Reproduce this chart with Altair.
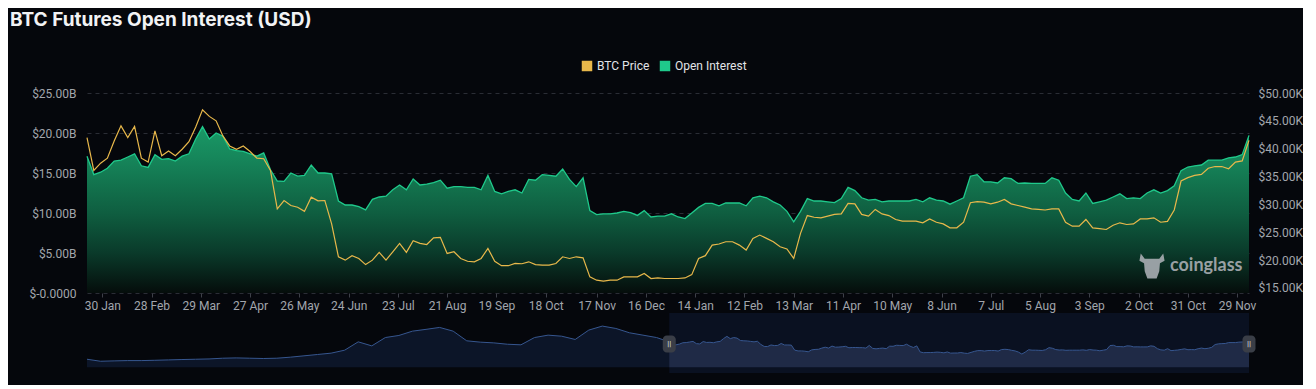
import altair as alt
import pandas as pd

TITLE = "BTC Futures Open Interest (USD)"
SERIES = ["BTC Price", "Open Interest"]
SERIES_COLORS = ["#E8B84B", "#1FC98B"]
WATERMARK = "coinglass"

# main series: one reading every 4 days starting 2022-01-21
START = "2022-01-21"
STEP_DAYS = 4
OI_B = [
    17.1, 14.8, 15.1, 15.6, 16.5, 16.6, 17.0, 17.4, 15.9, 15.7,
    17.3, 16.7, 16.8, 16.5, 17.1, 17.4, 19.25, 20.8, 19.25, 20.0,
    19.6, 18.0, 17.8, 17.7, 17.4, 17.1, 17.5, 15.4, 14.0, 13.95,
    15.0, 14.6, 14.7, 16.0, 15.0, 15.0, 14.9, 11.5, 11.0, 11.0,
    10.8, 10.4, 11.7, 12.0, 12.1, 12.9, 13.5, 12.9, 14.25, 13.5,
    13.6, 13.8, 14.1, 13.1, 13.3, 13.3, 13.2, 13.2, 12.9, 14.7,
    12.7, 12.4, 12.7, 12.9, 12.5, 14.2, 14.1, 14.8, 14.7, 14.6,
    15.5, 14.2, 13.3, 14.4, 10.3, 9.8, 9.9, 9.9, 10.0, 10.2,
    10.05, 9.7, 10.3, 9.5, 9.6, 9.6, 9.9, 9.5, 9.3, 10.0,
    10.7, 11.2, 11.2, 10.9, 11.25, 11.25, 11.25, 10.9, 11.9, 12.1,
    11.9, 11.4, 11.0, 10.2, 8.9, 10.2, 11.8, 11.5, 11.5, 11.4,
    11.3, 11.8, 13.2, 12.8, 11.9, 11.6, 11.7, 11.4, 11.5, 11.5,
    11.5, 11.5, 11.7, 11.4, 11.9, 11.6, 11.5, 11.1, 11.5, 11.9,
    14.6, 14.8, 13.9, 13.9, 13.75, 14.4, 14.3, 13.7, 13.75, 13.7,
    13.7, 13.7, 14.4, 14.1, 12.5, 11.7, 11.5, 12.5, 11.2, 11.4,
    11.6, 12.0, 12.4, 11.8, 11.9, 11.8, 12.5, 12.9, 12.5, 12.8,
    13.4, 15.3, 15.75, 15.9, 16.0, 16.6, 16.6, 16.6, 16.9, 17.0,
    17.3, 19.7,
]
PRICE_K = [
    42.0, 36.1, 37.4, 38.3, 41.4, 44.1, 42.0, 44.0, 38.3, 37.6,
    43.2, 38.75, 39.6, 38.75, 39.9, 41.25, 43.9, 47.0, 45.8, 45.0,
    42.3, 40.5, 39.9, 40.5, 39.5, 38.3, 38.2, 36.1, 29.2, 30.7,
    29.8, 29.5, 28.75, 31.3, 30.65, 30.7, 26.5, 20.6, 20.0, 20.8,
    20.3, 19.2, 20.0, 21.4, 20.0, 21.5, 23.0, 21.4, 23.5, 23.0,
    22.8, 24.0, 24.1, 21.2, 21.5, 20.3, 19.8, 19.7, 20.3, 22.1,
    19.8, 19.0, 19.0, 19.4, 19.35, 19.7, 19.2, 19.1, 19.1, 19.4,
    20.6, 20.3, 20.6, 20.4, 17.0, 16.4, 16.25, 16.4, 16.4, 17.0,
    17.0, 17.0, 17.6, 16.7, 16.8, 16.7, 16.7, 16.7, 16.8, 17.4,
    20.3, 20.8, 22.7, 22.9, 23.3, 23.3, 22.7, 21.8, 23.9, 24.5,
    23.9, 23.3, 22.4, 22.0, 20.3, 24.8, 28.0, 27.7, 27.6, 27.9,
    28.2, 28.3, 30.2, 30.1, 28.2, 27.9, 29.1, 28.3, 28.0, 27.3,
    27.0, 27.0, 27.0, 26.7, 27.4, 26.8, 26.5, 25.8, 25.8, 26.8,
    30.3, 30.5, 30.4, 30.1, 30.4, 30.9, 30.1, 29.8, 29.5, 29.2,
    29.1, 29.0, 29.2, 29.2, 26.8, 26.1, 26.1, 27.3, 25.8, 25.65,
    25.5, 26.25, 26.7, 26.4, 26.5, 27.4, 27.4, 27.6, 26.8, 26.95,
    29.0, 34.2, 34.8, 35.2, 35.4, 36.5, 36.8, 36.8, 36.4, 37.6,
    37.8, 41.5,
]

# overview slider: earlier open interest history, one reading every 16 days
HIST_START = "2020-03-05"
HIST_STEP_DAYS = 16
HIST_OI_B = [
    5.4, 4.05, 4.3, 4.5, 4.5, 4.7, 4.95, 5.2, 5.4, 5.6,
    6.1, 6.3, 6.1, 5.9, 6.1, 6.8, 7.7, 8.6, 9.5, 11.5,
    17.1, 14.4, 20.0, 21.4, 24.3, 25.5, 26.8, 24.3, 17.8, 16.9,
    16.4, 15.5, 15.1, 20.0, 21.6, 20.9, 18.7, 25.0, 27.7, 26.1,
    23.2, 21.6, 20.0,
]

TICK_DATES = [
    "2022-01-30", "2022-02-28", "2022-03-29", "2022-04-27", "2022-05-26",
    "2022-06-24", "2022-07-23", "2022-08-21", "2022-09-19", "2022-10-18",
    "2022-11-17", "2022-12-16", "2023-01-14", "2023-02-12", "2023-03-13",
    "2023-04-11", "2023-05-10", "2023-06-08", "2023-07-07", "2023-08-05",
    "2023-09-03", "2023-10-02", "2023-10-31", "2023-11-29",
]
LEFT_TICKS_B = [0, 5, 10, 15, 20, 25]
RIGHT_TICKS_K = [15, 20, 25, 30, 35, 40, 45, 50]


def dt(ts):
    ts = pd.Timestamp(ts)
    return alt.DateTime(year=ts.year, month=ts.month, date=ts.day)


BG = "#05070c"
LABEL = "#a2a6ad"
FONT = "Roboto"

dates = pd.date_range(START, periods=len(OI_B), freq=f"{STEP_DAYS}D")
main_df = pd.DataFrame({
    "date": dates,
    "oi": [v * 1e9 for v in OI_B],
    "price": [v * 1e3 for v in PRICE_K],
})

W, H = 1162, 200

x_enc = alt.X(
    "date:T",
    title=None,
    scale=alt.Scale(domain=[dt(dates[0]), dt(dates[-1])], nice=False),
    axis=alt.Axis(
        values=[dt(d) for d in TICK_DATES], format="%-d %b", labelColor=LABEL,
        labelFont=FONT, labelFontSize=12, ticks=True, tickSize=4, tickColor="#3d4048",
        domain=False, grid=False, labelPadding=3, labelOverlap=False,
    ),
)
y_left = alt.Y(
    "oi:Q",
    title=None,
    scale=alt.Scale(domain=[0, 25e9], nice=False),
    axis=alt.Axis(
        values=[v * 1e9 for v in LEFT_TICKS_B],
        labelExpr="datum.value == 0 ? '$-0.0000' : '$' + format(datum.value / 1e9, '.2f') + 'B'",
        grid=True, gridColor="#2a2d35", gridDash=[4, 4], gridWidth=1,
        domain=False, ticks=False, labelColor=LABEL, labelFont=FONT, labelFontSize=12,
        labelPadding=11, minExtent=79, maxExtent=79,
    ),
)
y_right = alt.Y(
    "price:Q",
    title=None,
    scale=alt.Scale(domain=[14100, 50000], nice=False, zero=False),
    axis=alt.Axis(
        orient="right", values=[v * 1e3 for v in RIGHT_TICKS_K],
        labelExpr="'$' + format(datum.value / 1000, '.2f') + 'K'",
        grid=False, domain=False, ticks=False, labelColor=LABEL, labelFont=FONT,
        labelFontSize=12, labelPadding=9,
    ),
)

gradient = alt.Gradient(
    gradient="linear",
    stops=[
        alt.GradientStop(color="#1a9866", offset=0),
        alt.GradientStop(color="#16875b", offset=0.18),
        alt.GradientStop(color="#0f5e40", offset=0.52),
        alt.GradientStop(color="#0a3a2a", offset=0.76),
        alt.GradientStop(color="#050d0b", offset=1),
    ],
    x1=1, x2=1, y1=0, y2=1,
)

area = alt.Chart(main_df).mark_area(color=gradient).encode(x=x_enc, y=y_left)
oi_line = alt.Chart(main_df).mark_line(strokeWidth=1.3, color=SERIES_COLORS[1]).encode(x=x_enc, y=y_left)

# legend source: invisible squares, one per series
legend_df = pd.DataFrame({"series": SERIES})
legend_src = alt.Chart(legend_df).mark_square(opacity=0, size=0).encode(
    color=alt.Color(
        "series:N",
        scale=alt.Scale(domain=SERIES, range=SERIES_COLORS),
        legend=alt.Legend(
            title=None, orient="none", legendX=494, legendY=-33, direction="horizontal",
            symbolType="square", symbolSize=110, symbolStrokeWidth=0, symbolOpacity=1,
            labelColor="#e2e4e8", labelFont=FONT, labelFontSize=12, columnPadding=9,
            labelOffset=4,
        ),
    )
)

wm_df = pd.DataFrame({"t": [WATERMARK]})
wm_text = alt.Chart(wm_df).mark_text(
    align="left", baseline="middle", font="Lato", fontSize=18, fontWeight="bold",
    color="#a9adb2", opacity=0.9,
).encode(text="t:N", x=alt.value(1083), y=alt.value(173))
wm_logo = alt.Chart(wm_df).mark_point(
    shape="M-0.85,-0.95 L-0.55,-0.55 L0.55,-0.55 L0.85,-0.95 L0.95,-0.4 L0.6,-0.2 L0.55,0.4 "
          "L0.35,0.95 L-0.35,0.95 L-0.55,0.4 L-0.6,-0.2 L-0.95,-0.4 Z",
    filled=True, color="#a9adb2", opacity=0.9, size=700,
).encode(x=alt.value(1065), y=alt.value(173))

price_line = alt.Chart(main_df).mark_line(strokeWidth=1.2, color=SERIES_COLORS[0]).encode(
    x=x_enc, y=y_right
)

left = alt.layer(area, oi_line, wm_logo, wm_text, legend_src)
main = alt.layer(left, price_line).resolve_scale(y="independent").properties(width=W, height=H)

# overview slider
hist_dates = pd.date_range(HIST_START, periods=len(HIST_OI_B), freq=f"{HIST_STEP_DAYS}D")
slider_df = pd.concat([
    pd.DataFrame({"date": hist_dates, "oi": [v * 1e9 for v in HIST_OI_B], "sel": False}),
    main_df[["date", "oi"]].assign(sel=True),
], ignore_index=True)
SH = 60
sx_scale = alt.Scale(domain=[dt(hist_dates[0]), dt(dates[-1])], nice=False)
sx = alt.X("date:T", axis=None, scale=sx_scale)
sy = alt.Y(
    "oi:Q", title=None,
    scale=alt.Scale(domain=[-3.85e9, 36.5e9], nice=False, zero=False),
    axis=alt.Axis(labels=False, ticks=False, domain=False, grid=False, minExtent=79, maxExtent=79),
)
sel_df = pd.DataFrame({"start": [dates[0]], "end": [dates[-1]]})
sel_bg = alt.Chart(sel_df).mark_rect(color="#0a1121").encode(
    x=alt.X("start:T", axis=None, scale=sx_scale), x2="end:T",
    y=alt.value(0), y2=alt.value(SH),
)
s_area = alt.Chart(slider_df).mark_area(color="#0c1528").encode(x=sx, y=sy, y2=alt.value(SH))
s_area_sel = alt.Chart(slider_df).transform_filter("datum.sel").mark_area(color="#1f2a46").encode(
    x=sx, y=sy, y2=alt.value(SH)
)
s_line = alt.Chart(slider_df).mark_line(color="#36568f", strokeWidth=1).encode(x=sx, y=sy)
handle_df = pd.DataFrame({"date": [dates[0], dates[-1]]})
handles = alt.Chart(handle_df).mark_rect(width=13, cornerRadius=4, color="#3a3e47").encode(
    x=alt.X("date:T", axis=None, scale=sx_scale), y=alt.value(22.5), y2=alt.value(39.5)
)
handle_txt = alt.Chart(handle_df).mark_text(
    text="||", fontSize=8, fontWeight="bold", color="#cfd2d8", baseline="middle"
).encode(x=alt.X("date:T", axis=None, scale=sx_scale), y=alt.value(31))

slider = alt.layer(sel_bg, s_area, s_area_sel, s_line, handles, handle_txt).properties(width=W, height=SH)

chart = alt.vconcat(main, slider, spacing=2).properties(
    title=alt.TitleParams(
        TITLE, anchor="start", font="Inter", fontSize=19, fontWeight="bold",
        color="#f2f3f5", offset=30, dx=2,
    ),
    background=BG,
    padding={"left": 0, "top": 3, "right": 0, "bottom": 12},
).configure(font=FONT).configure_view(stroke=None)

chart.save("out.html", embed_options={"renderer": "svg", "actions": False})
